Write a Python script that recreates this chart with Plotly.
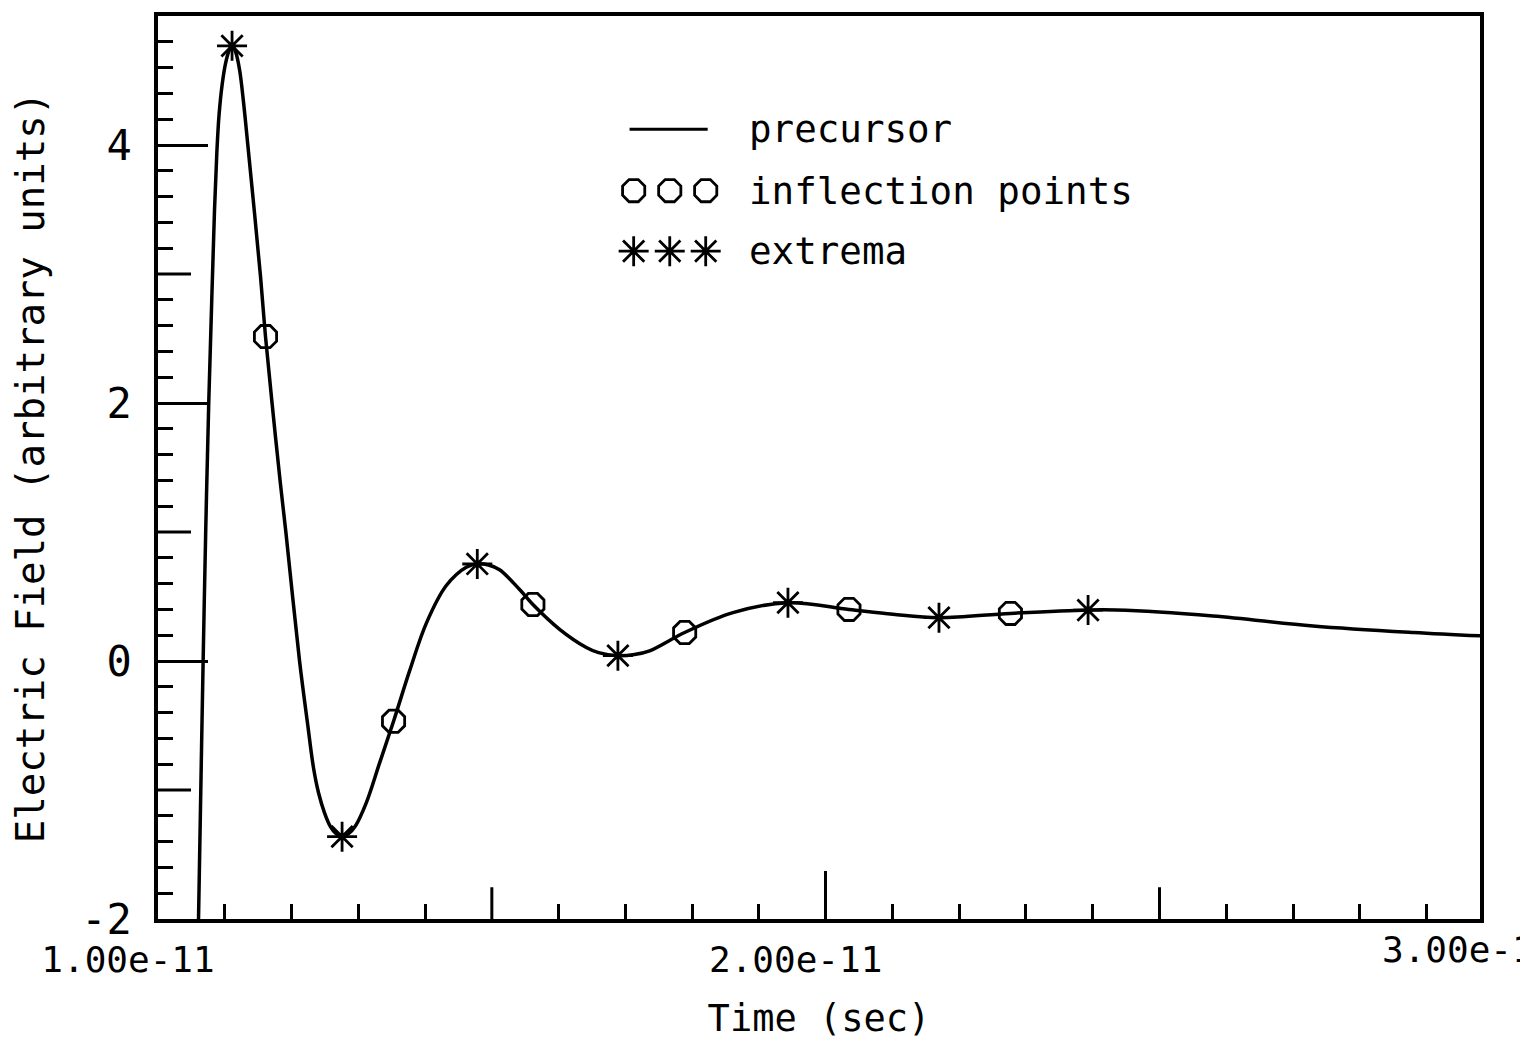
import plotly.graph_objects as go

# time in units of 1e-11 s, field in arbitrary units
CURVE_T = [1.0607, 1.0641, 1.0676, 1.0715, 1.0760, 1.0806, 1.0846, 1.0881,
           1.0914, 1.0959, 1.1011, 1.1064, 1.1109, 1.1161, 1.1221, 1.1281,
           1.1345, 1.1536, 1.1610, 1.1708, 1.1828, 1.1915, 1.2120, 1.2240,
           1.2330, 1.2405, 1.2494, 1.2584, 1.2674, 1.2757, 1.2854, 1.2959,
           1.3119, 1.3318, 1.3528, 1.3768, 1.4018, 1.4318, 1.4617, 1.4782,
           1.4950, 1.5116, 1.5416, 1.5615, 1.6015, 1.6415, 1.6599, 1.6888,
           1.7135, 1.7363, 1.7888, 1.8611, 1.9435, 2.0349, 2.1008, 2.1697,
           2.2767, 2.3930, 2.4355, 2.5800, 2.7300, 2.8800, 2.9800]
CURVE_E = [-2.0, -1.0, 0.0, 1.015, 2.0, 2.815, 3.492, 3.938,
           4.231, 4.462, 4.631, 4.731, 4.769, 4.723, 4.585, 4.331,
           4.002, 2.977, 2.515, 2.0, 1.40, 1.0, 0.0, -0.485,
           -0.831, -1.023, -1.177, -1.285, -1.342, -1.362, -1.338, -1.277,
           -1.100, -0.792, -0.467, -0.077, 0.292, 0.585, 0.727, 0.752,
           0.744, 0.708, 0.554, 0.438, 0.246, 0.105, 0.065, 0.041,
           0.050, 0.079, 0.221, 0.375, 0.452, 0.400, 0.362, 0.336,
           0.369, 0.395, 0.395, 0.349, 0.272, 0.221, 0.195]

EXTREMA_T = [1.1109, 1.2757, 1.4782, 1.6888, 1.9435, 2.1697, 2.3930]
EXTREMA_E = [4.769, -1.362, 0.752, 0.041, 0.452, 0.336, 0.395]

INFLECTION_T = [1.1610, 1.3528, 1.5615, 1.7888, 2.0349, 2.2767]
INFLECTION_E = [2.515, -0.467, 0.438, 0.221, 0.400, 0.369]

X_MAJOR = [1.0, 2.0]
X_MAJOR_TEXT = ["1.00e-11", "2.00e-11"]
X_MID = [1.5, 2.5]
X_MINOR = [1.1, 1.2, 1.3, 1.4, 1.6, 1.7, 1.8, 1.9,
           2.1, 2.2, 2.3, 2.4, 2.6, 2.7, 2.8, 2.9]
Y_MAJOR = [-2, 0, 2, 4]
Y_MID = [-1, 1, 3]
Y_MINOR = [v / 5 for v in range(-9, 25) if v % 5 != 0]

SCALE = 1e-11
FONT = "DejaVu Sans Mono"
INK = "black"

# hand-drawn legend keys, in plot-area fractions
LEGEND_LINE_X = [0.3567, 0.4158]
LEGEND_KEY_X = [0.3598, 0.3871, 0.4143]
LEGEND_ROWS_Y = [0.8745, 0.8066, 0.7396]

fig = go.Figure()

fig.add_trace(go.Scatter(
    x=[t * SCALE for t in CURVE_T],
    y=CURVE_E,
    mode="lines",
    line={"color": INK, "width": 3.5, "shape": "spline", "smoothing": 1.0},
    showlegend=False,
))

fig.add_trace(go.Scatter(
    x=[t * SCALE for t in INFLECTION_T],
    y=INFLECTION_E,
    mode="markers",
    marker={"symbol": "octagon-open", "size": 24, "color": INK,
            "line": {"width": 2.8, "color": INK}},
    showlegend=False,
))

fig.add_trace(go.Scatter(
    x=[t * SCALE for t in EXTREMA_T],
    y=EXTREMA_E,
    mode="markers",
    marker={"symbol": "asterisk-open", "size": 25, "color": INK,
            "line": {"width": 2.8, "color": INK}},
    showlegend=False,
))

# legend keys
fig.add_trace(go.Scatter(
    x=LEGEND_LINE_X, y=[LEGEND_ROWS_Y[0]] * 2, xaxis="x2", yaxis="y2",
    mode="lines", line={"color": INK, "width": 3}, showlegend=False,
))
fig.add_trace(go.Scatter(
    x=LEGEND_KEY_X, y=[LEGEND_ROWS_Y[1]] * 3, xaxis="x2", yaxis="y2",
    mode="markers",
    marker={"symbol": "octagon-open", "size": 24, "color": INK,
            "line": {"width": 2.8, "color": INK}},
    showlegend=False,
))
fig.add_trace(go.Scatter(
    x=LEGEND_KEY_X, y=[LEGEND_ROWS_Y[2]] * 3, xaxis="x2", yaxis="y2",
    mode="markers",
    marker={"symbol": "asterisk-open", "size": 25, "color": INK,
            "line": {"width": 2.8, "color": INK}},
    showlegend=False,
))

for label, row_y in zip(["precursor", "inflection points", "extrema"],
                        LEGEND_ROWS_Y):
    fig.add_annotation(
        text=label, xref="paper", yref="paper", x=0.4455, y=row_y,
        xanchor="left", yanchor="middle", showarrow=False,
        font={"family": FONT, "size": 37.5, "color": INK},
    )

# the 3.00e-11 label sits past the right edge, cut by the page
fig.add_annotation(
    text="3.00e-11", xref="paper", yref="paper", x=1.0, y=0.0,
    xanchor="left", yanchor="top", xshift=-100, yshift=-8,
    showarrow=False, font={"family": FONT, "size": 36, "color": INK},
)

# medium-length ticks
for t in X_MID:
    fig.add_shape(type="line", xref="x", yref="y domain",
                  x0=t * SCALE, x1=t * SCALE, y0=0, y1=32 / 910,
                  line={"color": INK, "width": 3})
for v in Y_MID:
    fig.add_shape(type="line", xref="x domain", yref="y",
                  x0=0, x1=33 / 1322, y0=v, y1=v,
                  line={"color": INK, "width": 3})

fig.update_layout(
    width=1512,
    height=1032,
    margin={"l": 150, "r": 40, "t": 4, "b": 118},
    paper_bgcolor="white",
    plot_bgcolor="white",
    font={"family": FONT, "color": INK},
    showlegend=False,
    xaxis={
        "range": [1.0 * SCALE, 2.98 * SCALE],
        "tickmode": "array",
        "tickvals": [t * SCALE for t in X_MAJOR],
        "ticktext": X_MAJOR_TEXT,
        "ticks": "inside",
        "ticklen": 48,
        "tickwidth": 3,
        "tickcolor": INK,
        "ticklabelstandoff": 6,
        "ticklabelshift": -30,
        "tickfont": {"family": FONT, "size": 36, "color": INK},
        "minor": {"tickmode": "array",
                  "tickvals": [t * SCALE for t in X_MINOR],
                  "ticks": "inside", "ticklen": 15, "tickwidth": 3,
                  "tickcolor": INK, "showgrid": False},
        "showline": True,
        "linewidth": 3.5,
        "linecolor": INK,
        "mirror": True,
        "showgrid": False,
        "zeroline": False,
        "title": {"text": "Time (sec)", "standoff": 30,
                  "font": {"family": FONT, "size": 37, "color": INK}},
    },
    yaxis={
        "range": [-2.0, 5.0],
        "tickmode": "array",
        "tickvals": Y_MAJOR,
        "ticktext": [str(v) for v in Y_MAJOR],
        "ticks": "inside",
        "ticklen": 50,
        "tickwidth": 3,
        "tickcolor": INK,
        "ticklabelstandoff": 14,
        "tickfont": {"family": FONT, "size": 42, "color": INK},
        "minor": {"tickmode": "array", "tickvals": Y_MINOR,
                  "ticks": "inside", "ticklen": 15, "tickwidth": 3,
                  "tickcolor": INK, "showgrid": False},
        "showline": True,
        "linewidth": 3.5,
        "linecolor": INK,
        "mirror": True,
        "showgrid": False,
        "zeroline": False,
        "title": {"text": "Electric Field (arbitrary units)", "standoff": 40,
                  "font": {"family": FONT, "size": 39, "color": INK}},
    },
    xaxis2={"overlaying": "x", "anchor": "y2", "range": [0, 1],
            "visible": False, "fixedrange": True},
    yaxis2={"overlaying": "y", "anchor": "x2", "range": [0, 1],
            "visible": False, "fixedrange": True},
)

fig.write_html("out.html")
